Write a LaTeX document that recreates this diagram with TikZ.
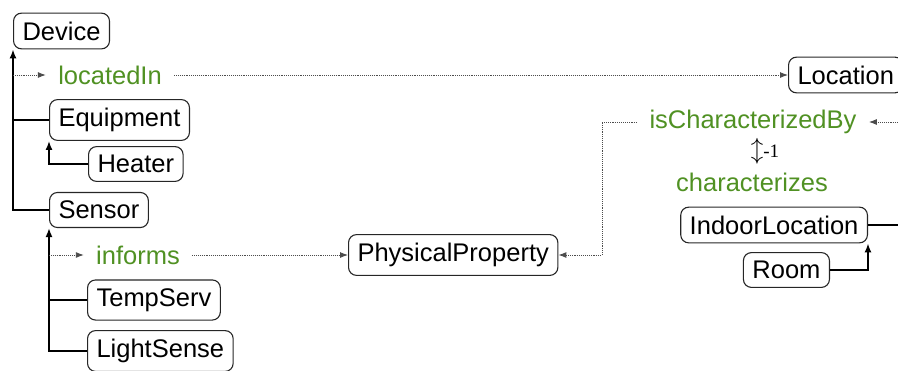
\documentclass[tikz,border=0pt]{standalone}
\usepackage{fontspec}
\setmainfont{Liberation Sans}
\newfontfamily\invfont{Liberation Serif}
\usetikzlibrary{arrows.meta}
\definecolor{relgreen}{RGB}{80,145,35}

\begin{document}
\begin{tikzpicture}[x=1pt, y=-1pt, thick]
    \tikzstyle{cnode}=[draw=black!85, line width=1.1pt, rounded corners=8pt, inner xsep=9pt, inner ysep=8.5pt, anchor=west]
    \tikzstyle{rlabel}=[text=relgreen, inner xsep=12pt, inner ysep=2pt]
    \tikzstyle{isarr}=[line width=1.6pt, -{Latex[length=9pt,width=7pt]}]
    \tikzstyle{isline}=[line width=1.6pt]
    \tikzstyle{relarr}=[densely dotted, line width=0.9pt, black!70, -{Latex[length=8pt,width=6pt]}]

    \fontsize{25.5}{30}\selectfont

    \useasboundingbox (0,0) rectangle (898,370);

    % classes
    \node[cnode] (Device) at (13,31) {Device};
    \node[cnode] (Equipment) at (49,120) {Equipment};
    \node[cnode] (Heater) at (88,164) {Heater};
    \node[cnode] (Sensor) at (49,210) {Sensor};
    \node[cnode] (TempServ) at (87,300) {TempServ};
    \node[cnode] (LightSense) at (87,351) {LightSense};
    \node[cnode] (PhysicalProperty) at (348,255) {PhysicalProperty};
    \node[cnode] (Location) at (788,75) {Location};
    \node[cnode, anchor=east] (IndoorLocation) at (868,225) {IndoorLocation};
    \node[cnode, anchor=east] (Room) at (830,270) {Room};

    % properties
    \node[rlabel] (locatedIn) at (110,75) {locatedIn};
    \node[rlabel] (informs) at (138,255) {informs};
    \node[rlabel] (isCharacterizedBy) at (753,122) {isCharacterizedBy};
    \node[inner sep=1pt] (inverse) at (765,151) {\fontsize{24}{26}\selectfont$\updownarrow$\invfont\fontsize{19}{20}\selectfont-1};
    \node[rlabel] (characterizes) at (752,182) {characterizes};

    \coordinate (locTrunkA) at (898,122);
    \coordinate (locTrunkB) at (898,225);
    \coordinate (charBend) at (602,122);

    % subclass edges
    \draw[isarr] (Sensor.west) -| (Device.south west);
    \draw[isline] (Equipment.west) -- (Equipment.west -| Device.south west);
    \draw[isarr] (Heater.west) -| (Equipment.south west);
    \draw[isarr] (LightSense.west) -| (Sensor.south west);
    \draw[isline] (TempServ.west) -- (TempServ.west -| Sensor.south west);
    \draw[isarr] (Room.east) -| (IndoorLocation.south east);
    \draw[isline] (IndoorLocation.east) -- (locTrunkB);

    % property edges
    \draw[relarr] (locatedIn.west -| Device.south west) -- (locatedIn.west);
    \draw[relarr] (locatedIn.east) -- (Location.west);
    \draw[relarr] (informs.west -| Sensor.south west) -- (informs.west);
    \draw[relarr] (informs.east) -- (PhysicalProperty.west);
    \draw[relarr] (locTrunkA) -- (isCharacterizedBy.east);
    \draw[relarr] (isCharacterizedBy.west) -- (charBend) |- (PhysicalProperty.east);
\end{tikzpicture}
\end{document}
